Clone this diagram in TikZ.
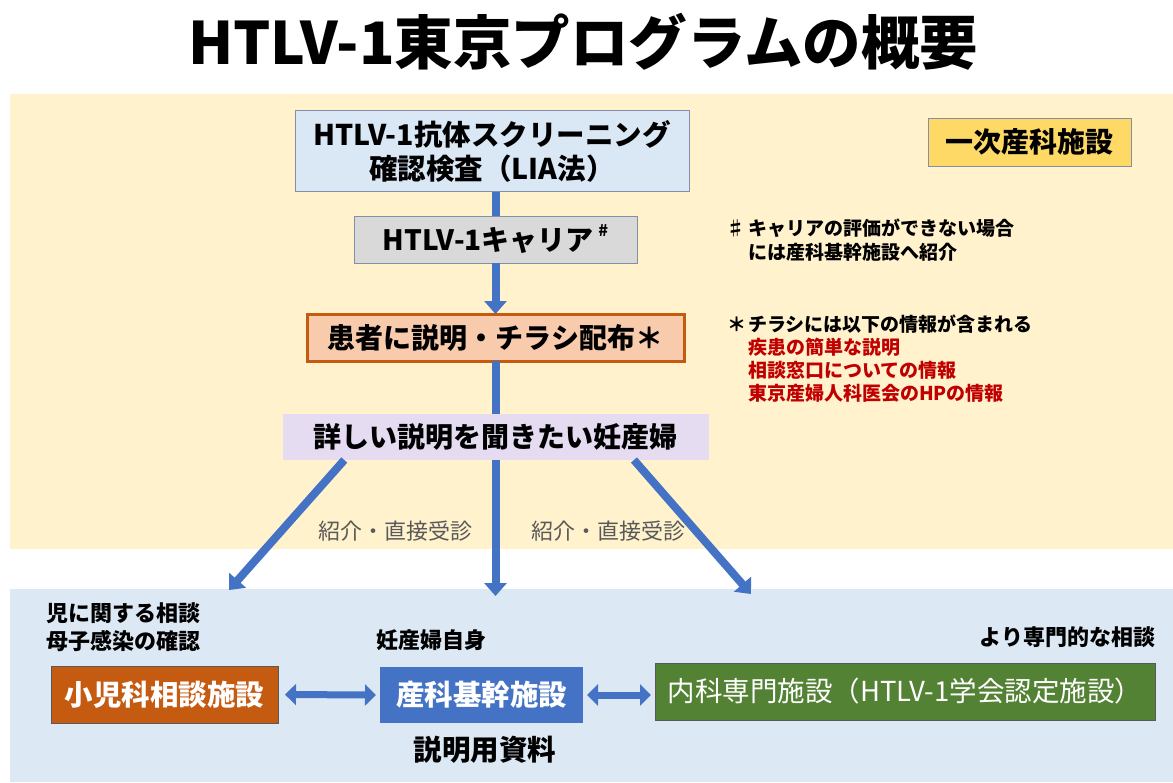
\documentclass[tikz,border=0pt]{standalone}
\usepackage{fontspec}
\setmainfont{Noto Sans CJK JP}
\usetikzlibrary{arrows.meta,calc}
\definecolor{bgY}{HTML}{FFF2CC}
\definecolor{bgB}{HTML}{DDE8F5}
\definecolor{boxB}{HTML}{DAE7F5}
\definecolor{edgeG}{HTML}{8090A8}
\definecolor{boxG}{HTML}{D9D9D9}
\definecolor{boxP}{HTML}{F8CBAD}
\definecolor{edgeO}{HTML}{C55A11}
\definecolor{boxL}{HTML}{E6DCF2}
\definecolor{boxYel}{HTML}{FFD966}
\definecolor{boxOr}{HTML}{C55A11}
\definecolor{boxBl}{HTML}{4472C4}
\definecolor{boxGr}{HTML}{548235}
\definecolor{arr}{HTML}{4472C4}
\definecolor{redT}{HTML}{C00000}
\definecolor{grayT}{HTML}{595959}
\begin{document}
\begin{tikzpicture}[x=1pt,y=-1pt,
  every node/.style={inner sep=0pt, outer sep=0pt},
  bigtxt/.style={font=\bfseries\fontsize{28}{34}\selectfont, align=center},
  flowbox/.style={bigtxt, draw=edgeG, line width=1pt},
  note/.style={font=\bfseries\fontsize{19}{22}\selectfont, anchor=west},
  rednote/.style={note, text=redT},
  lbl/.style={font=\bfseries\fontsize{22}{25}\selectfont},
  via/.style={font=\fontsize{22}{25}\selectfont, text=grayT},
  wbox/.style={bigtxt, text=white, draw=gray!70!black, line width=0.8pt},
  flow/.style={draw=arr, line width=8pt},
  flowarr/.style={flow, -{Triangle[width=22pt,length=13pt]}},
  dblarr/.style={draw=arr, line width=7pt, {Triangle[width=21pt,length=11pt]}-{Triangle[width=21pt,length=11pt]}}
]
\useasboundingbox (0,0) rectangle (1173,782);
\fill[white] (0,0) rectangle (1173,782);
\fill[bgY] (10,94) rectangle (1173,549);
\fill[bgB] (10,589) rectangle (1173,782);

% title
\node[font=\bfseries\fontsize{58.5}{64}\selectfont] (title) at (583,42) {HTLV-1東京プログラムの概要};

% flow boxes
\node[flowbox, fill=boxB, minimum width=394pt, minimum height=81pt, font=\bfseries\fontsize{28.5}{34}\selectfont] (b1) at (492,151)
  {HTLV-1抗体スクリーニング\\確認検査（LIA法）};
\node[flowbox, fill=boxG, minimum width=283pt, minimum height=47pt] (b2) at (495.5,239.5)
  {HTLV-1キャリア\,\raisebox{0.5em}{\fontsize{16}{16}\selectfont\#}};
\node[bigtxt, fill=boxP, draw=edgeO, line width=3pt, minimum width=377pt, minimum height=47pt] (b3) at (495.5,337.5)
  {患者に説明・チラシ配布＊};
\node[bigtxt, fill=boxL, minimum width=426pt, minimum height=46pt] (b4) at (495.5,437)
  {詳しい説明を聞きたい妊産婦};

% connectors in the primary block
\draw[flow] (b2.north |- b1.south) -- (b2.north);
\draw[flowarr] (b2.south) -- (b3.north);
\draw[flow] (b3.south) -- (b4.north);

\node[bigtxt, fill=boxYel, draw=edgeG, line width=1pt, minimum width=203pt, minimum height=48pt] (ichi) at (1029.5,142) {一次産科施設};

% notes
\node[note, anchor=east] (sharp) at (745,228) {♯};
\node[note] (n1) at (748,228) {キャリアの評価ができない場合};
\node[note] (n2) at (748,252) {には産科基幹施設へ紹介};
\node[note, anchor=east] (ast) at (746,324) {＊};
\node[note] (n3) at (748,324) {チラシには以下の情報が含まれる};
\node[rednote] (r1) at (748,347) {疾患の簡単な説明};
\node[rednote] (r2) at (748,370) {相談窓口についての情報};
\node[rednote] (r3) at (748,393) {東京産婦人科医会のHPの情報};

% arrows to second tier
\coordinate (tipL) at (229,590);
\coordinate (tipM) at (495.5,596);
\coordinate (tipR) at (751,594);
\draw[flowarr] ($(b4.south west)!0.145!(b4.south east)$) -- (tipL);
\draw[flowarr] (b4.south) -- (tipM);
\draw[flowarr] ($(b4.south west)!0.825!(b4.south east)$) -- (tipR);

\node[via] (via1) at (395,531) {紹介・直接受診};
\node[via] (via2) at (608,531) {紹介・直接受診};

% bottom tier
\node[lbl, anchor=west] (c1) at (46,613) {児に関する相談};
\node[lbl, anchor=west] (c2) at (46,641) {母子感染の確認};
\node[lbl] (c3) at (431,640) {妊産婦自身};
\node[lbl, anchor=east] (c4) at (1155,637) {より専門的な相談};

\node[wbox, fill=boxOr, minimum width=227pt, minimum height=57pt, font=\bfseries\fontsize{28.5}{34}\selectfont] (sho) at (164.5,694.5) {小児科相談施設};
\node[wbox, fill=boxBl, draw=none, minimum width=203pt, minimum height=56pt, font=\bfseries\fontsize{28.5}{34}\selectfont] (san) at (481.5,695) {産科基幹施設};
\node[wbox, fill=boxGr, minimum width=500pt, minimum height=57pt, font=\fontsize{27.5}{34}\selectfont] (nai) at (905,691.5) {内科専門施設（HTLV-1学会認定施設）};

\draw[dblarr, shorten <=7pt, shorten >=4pt] (sho.east) -- (san.west);
\draw[dblarr, shorten <=4pt, shorten >=4pt] (san.east) -- (san.east -| nai.west);

\node[font=\bfseries\fontsize{28.5}{34}\selectfont] (doc) at (485,750) {説明用資料};
\end{tikzpicture}
\end{document}
